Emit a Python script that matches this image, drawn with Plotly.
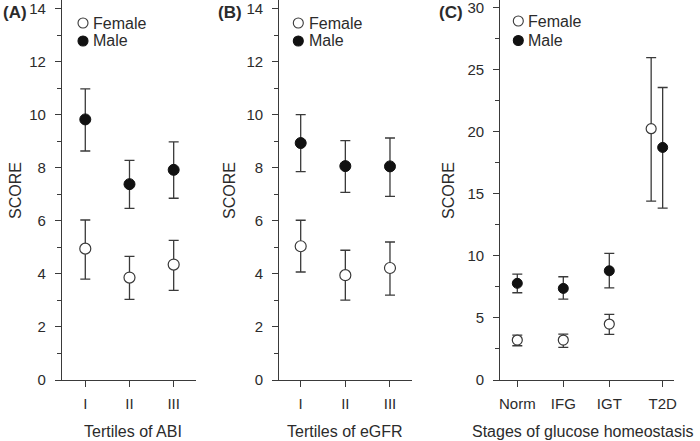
import plotly.graph_objects as go

W, H = 700, 441

# ---------------- data ----------------
a_categories = ["I", "II", "III"]
a_female = [4.95, 3.86, 4.35]
a_female_hi = [6.03, 4.66, 5.26]
a_female_lo = [3.80, 3.04, 3.38]
a_male = [9.82, 7.38, 7.92]
a_male_hi = [10.97, 8.28, 8.97]
a_male_lo = [8.63, 6.47, 6.85]

b_categories = ["I", "II", "III"]
b_female = [5.04, 3.95, 4.22]
b_female_hi = [6.02, 4.89, 5.20]
b_female_lo = [4.07, 3.01, 3.20]
b_male = [8.93, 8.06, 8.05]
b_male_hi = [10.00, 9.02, 9.12]
b_male_lo = [7.85, 7.07, 6.92]

c_categories = ["Norm", "IFG", "IGT", "T2D"]
c_female = [3.22, 3.22, 4.51, 20.25]
c_female_hi = [3.62, 3.70, 5.29, 25.97]
c_female_lo = [2.76, 2.63, 3.68, 14.42]
c_male = [7.79, 7.38, 8.80, 18.74]
c_male_hi = [8.53, 8.32, 10.20, 23.57]
c_male_lo = [7.03, 6.52, 7.43, 13.85]

x_titles = ["Tertiles of ABI", "Tertiles of eGFR", "Stages of glucose homeostasis"]
y_title = "SCORE"
panel_labels = ["(A)", "(B)", "(C)"]

# category positions on numeric axes (layout)
ab_pos = [1, 2, 3]
c_tick_pos = [1, 2, 3, 4.16]
c_female_pos = [1, 2, 3, 3.91]
c_male_pos = [1, 2, 3, 4.16]

FONT = "Arial, Liberation Sans, sans-serif"
INK = "#2b2b2b"
LINE = "#3a3a3a"


def px_x(p):
    return p / W


def px_y(p):
    return 1 - p / H


def err(v, hi, lo):
    return dict(type="data", symmetric=False,
                array=[h - x for x, h in zip(v, hi)],
                arrayminus=[x - l for x, l in zip(v, lo)],
                color=LINE, thickness=1.3, width=5)


fig = go.Figure()


def add_pair(xf, xm, fem, fhi, flo, mal, mhi, mlo, xa, ya, size):
    fig.add_trace(go.Scatter(
        x=xm, y=mal, mode="markers", name="Male", showlegend=False,
        error_y=err(mal, mhi, mlo), xaxis=xa, yaxis=ya,
        marker=dict(symbol="circle", size=size, color="#111111",
                    line=dict(color="#111111", width=1))))
    fig.add_trace(go.Scatter(
        x=xf, y=fem, mode="markers", name="Female", showlegend=False,
        error_y=err(fem, fhi, flo), xaxis=xa, yaxis=ya,
        marker=dict(symbol="circle", size=size, color="white",
                    line=dict(color=LINE, width=1.2))))


add_pair(ab_pos, ab_pos, a_female, a_female_hi, a_female_lo,
         a_male, a_male_hi, a_male_lo, "x", "y", 11)
add_pair(ab_pos, ab_pos, b_female, b_female_hi, b_female_lo,
         b_male, b_male_hi, b_male_lo, "x2", "y2", 11)
add_pair(c_female_pos, c_male_pos, c_female, c_female_hi, c_female_lo,
         c_male, c_male_hi, c_male_lo, "x3", "y3", 10)

tickfont = dict(family=FONT, size=15, color=INK)
titlefont = dict(family=FONT, size=16, color=INK)

y_dom = [px_y(380), 1]


def xaxis(dom, rng, tickvals, ticktext, anchor):
    return dict(domain=dom, range=rng, tickmode="array", tickvals=tickvals,
                ticktext=ticktext, showline=True, linecolor=LINE, linewidth=1.3,
                ticks="outside", ticklen=6, tickwidth=1.3, tickcolor=LINE,
                showgrid=False, zeroline=False, tickfont=tickfont,
                ticklabelstandoff=4, automargin=False,
                anchor=anchor, fixedrange=True)


def yaxis(rng, dtick, minor_dtick, anchor, position=None):
    d = dict(domain=y_dom, range=rng, tick0=0, dtick=dtick, showline=True,
             linecolor=LINE, linewidth=1.3, ticks="outside", ticklen=6,
             tickwidth=1.3, tickcolor=LINE, showgrid=False, zeroline=False,
             tickfont=tickfont, ticklabelstandoff=6, ticklabeloverflow="allow",
             minor=dict(dtick=minor_dtick, tick0=0, ticks="outside", ticklen=4,
                        tickwidth=1.2, tickcolor=LINE, showgrid=False),
             automargin=False, anchor=anchor, fixedrange=True)
    if position is not None:
        d["anchor"] = "free"
        d["position"] = position
    return d


fig.update_layout(
    width=W, height=H,
    autosize=False,
    margin=dict(l=0, r=0, t=0, b=0, pad=0, autoexpand=False),
    paper_bgcolor="white", plot_bgcolor="white",
    showlegend=False,
    font=dict(family=FONT, color=INK),
    xaxis=xaxis([px_x(62), px_x(196)], [0.473, 3.505], ab_pos, a_categories, "y"),
    yaxis=yaxis([0, 14.32], 2, 1, "x"),
    xaxis2=xaxis([px_x(279.3), px_x(412.3)], [0.521, 3.5], ab_pos, b_categories, "y2"),
    yaxis2=yaxis([0, 14.32], 2, 1, "x2"),
    xaxis3=xaxis([px_x(494), px_x(674.3)], [0.4935, 4.413], c_tick_pos,
                 c_categories, "y3"),
    yaxis3=yaxis([0, 30.62], 5, 2.5, "x3", position=px_x(499.3)),
)

# axis titles as annotations
for txt, cx in zip(x_titles, [133, 344.5, 582]):
    fig.add_annotation(text=txt, x=px_x(cx), y=px_y(431), xref="paper",
                       yref="paper", xanchor="center", yanchor="middle",
                       showarrow=False, font=titlefont)
for cx in [15, 229, 448]:
    fig.add_annotation(text=y_title, x=px_x(cx), y=px_y(191), xref="paper",
                       yref="paper", xanchor="center", yanchor="middle",
                       textangle=-90, showarrow=False, font=titlefont)

# panel labels
for txt, xr in zip(panel_labels, [29, 244, 465]):
    fig.add_annotation(text=txt, x=px_x(xr), y=px_y(12), xref="paper",
                       yref="paper", xanchor="right", yanchor="middle",
                       showarrow=False,
                       font=dict(family=FONT, size=17, color=INK, weight="bold"))

# legends (drawn)
legends = [(83, 23, 41, 90.5), (298.3, 23, 41, 306.5), (518.3, 21, 40.5, 526)]
for cx, yf, ym, tx in legends:
    for cy, fill, label in [(yf, "white", "Female"), (ym, "#111111", "Male")]:
        fig.add_shape(type="circle", xref="paper", yref="paper",
                      xsizemode="pixel", ysizemode="pixel",
                      xanchor=px_x(cx), yanchor=px_y(cy),
                      x0=-5, x1=5, y0=-5, y1=5,
                      fillcolor=fill,
                      line=dict(color=LINE if fill == "white" else "#111111", width=1.1))
        fig.add_annotation(text=label, x=px_x(tx), y=px_y(cy), xref="paper",
                           yref="paper", xanchor="left", yanchor="middle",
                           showarrow=False,
                           font=dict(family=FONT, size=16, color=INK))

fig.write_html("out.html", config={"displayModeBar": False},
               post_script="document.body.style.margin='0';document.body.style.padding='0';")
